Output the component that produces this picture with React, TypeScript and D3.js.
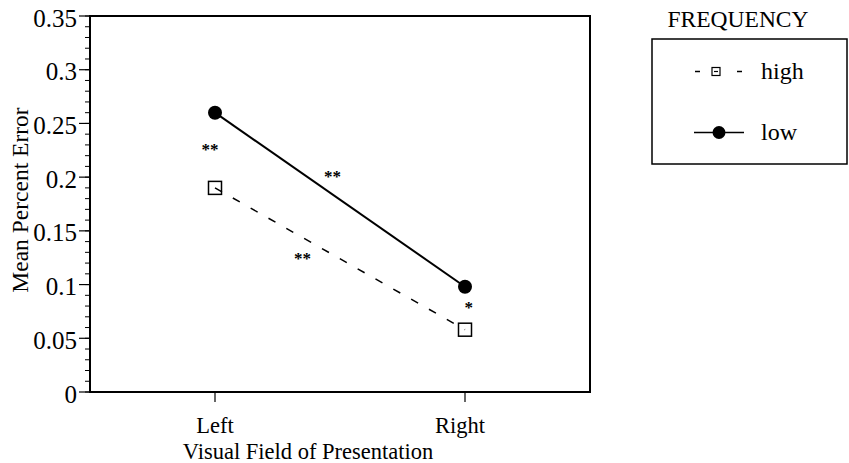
import React from "react";
import * as d3 from "d3";

// Categories on the x axis
const fields = ["Left", "Right"];

// Mean percent error per frequency condition
const highValues = [0.19, 0.058];
const lowValues = [0.26, 0.098];

// Y axis tick values
const yMajorTicks = [0, 0.05, 0.1, 0.15, 0.2, 0.25, 0.3, 0.35];

// Significance markers: position along the field axis (0 = Left, 1 = Right) and value
const markerLabels = ["**", "**", "**", "*"];
const markerPositions = [-0.02, 0.47, 0.35, 1.015];
const markerValues = [0.228, 0.203, 0.127, 0.081];

const seriesNames = ["high", "low"];

const W = 849;
const H = 463;
const FONT = "Liberation Serif";

export default function App() {
  const plot = { left: 90, right: 590, top: 16, bottom: 392 };

  const x = d3.scaleLinear().domain([-0.5, 1.5]).range([plot.left, plot.right]);
  const y = d3.scaleLinear().domain([0, 0.35]).range([plot.bottom, plot.top]);

  const minorTicks = d3.range(0, 0.3501, 0.01).map((v) => +v.toFixed(2));

  const line = d3
    .line<number>()
    .x((_, i) => x(i))
    .y((d) => y(d));

  const fmt = (v: number) => String(+v.toFixed(2));

  const sq = 13;
  const circR = 7;
  const txt = { fontFamily: FONT };

  return (
    <svg
      width={W}
      height={H}
      style={{ position: "absolute", left: 0, top: 0, background: "#fff" }}
    >
      <rect x={0} y={0} width={W} height={H} fill="#fff" />

      {/* minor y ticks */}
      {minorTicks.map((v) => (
        <line
          key={"m" + v}
          x1={plot.left - 5}
          x2={plot.left}
          y1={y(v)}
          y2={y(v)}
          stroke="#000"
          strokeWidth={1}
        />
      ))}
      {/* major y ticks and labels */}
      {yMajorTicks.map((v) => (
        <g key={"t" + v}>
          <line
            x1={plot.left - 11}
            x2={plot.left}
            y1={y(v)}
            y2={y(v)}
            stroke="#000"
            strokeWidth={1.2}
          />
          <text
            x={plot.left - 13}
            y={y(v)}
            dy="0.42em"
            textAnchor="end"
            fontSize={25}
            fill="#000"
            style={txt}
          >
            {fmt(v)}
          </text>
        </g>
      ))}

      {/* x ticks and labels */}
      {fields.map((f, i) => (
        <g key={f}>
          <line
            x1={x(i)}
            x2={x(i)}
            y1={plot.bottom}
            y2={plot.bottom + 10}
            stroke="#000"
            strokeWidth={1.2}
          />
          <text x={x(i) - (i === 1 ? 5 : 0)} y={433} textAnchor="middle" fontSize={22.5} fill="#000" style={txt}>
            {f}
          </text>
        </g>
      ))}

      {/* plot frame */}
      <rect
        x={plot.left}
        y={plot.top}
        width={plot.right - plot.left}
        height={plot.bottom - plot.top}
        fill="none"
        stroke="#000"
        strokeWidth={2}
      />

      {/* axis titles */}
      <text x={308} y={459} textAnchor="middle" fontSize={22.5} fill="#000" style={txt}>
        Visual Field of Presentation
      </text>
      <text
        transform={`translate(28,200) rotate(-90)`}
        textAnchor="middle"
        fontSize={23.5}
        fill="#000"
        style={txt}
      >
        Mean Percent Error
      </text>

      {/* high frequency: dashed line with open squares */}
      <path
        d={line(highValues) || ""}
        fill="none"
        stroke="#000"
        strokeWidth={1.5}
        strokeDasharray="8 12.5"
      />
      {highValues.map((v, i) => (
        <rect
          key={"h" + i}
          x={x(i) - sq / 2}
          y={y(v) - sq / 2}
          width={sq}
          height={sq}
          fill="none"
          stroke="#000"
          strokeWidth={1.5}
        />
      ))}

      {/* low frequency: solid line with filled circles */}
      <path d={line(lowValues) || ""} fill="none" stroke="#000" strokeWidth={2} />
      {lowValues.map((v, i) => (
        <circle key={"l" + i} cx={x(i)} cy={y(v)} r={circR} fill="#000" />
      ))}

      {/* significance markers */}
      {markerLabels.map((m, i) => (
        <text
          key={"s" + i}
          x={x(markerPositions[i])}
          y={y(markerValues[i]) + 8}
          textAnchor="middle"
          fontSize={17}
          fontWeight="bold"
          fill="#000"
          style={txt}
        >
          {m}
        </text>
      ))}

      {/* legend */}
      <text x={738} y={27} textAnchor="middle" fontSize={23.5} fill="#000" style={txt}>
        FREQUENCY
      </text>
      <rect x={652} y={39} width={195} height={125} fill="none" stroke="#000" strokeWidth={1.5} />
      {/* high entry */}
      <line x1={695} x2={700} y1={71.5} y2={71.5} stroke="#000" strokeWidth={1.5} />
      <rect x={712} y={67.5} width={8} height={8} fill="none" stroke="#000" strokeWidth={1.2} />
      <line x1={714} x2={718} y1={71.5} y2={71.5} stroke="#000" strokeWidth={1.2} />
      <line x1={737} x2={742} y1={71.5} y2={71.5} stroke="#000" strokeWidth={1.5} />
      <text x={761} y={79} fontSize={24} fill="#000" style={txt}>
        {seriesNames[0]}
      </text>
      {/* low entry */}
      <line x1={694} x2={744} y1={132.5} y2={132.5} stroke="#000" strokeWidth={1.5} />
      <circle cx={719} cy={132.5} r={6.5} fill="#000" />
      <text x={761} y={140} fontSize={24} fill="#000" style={txt}>
        {seriesNames[1]}
      </text>
    </svg>
  );
}
